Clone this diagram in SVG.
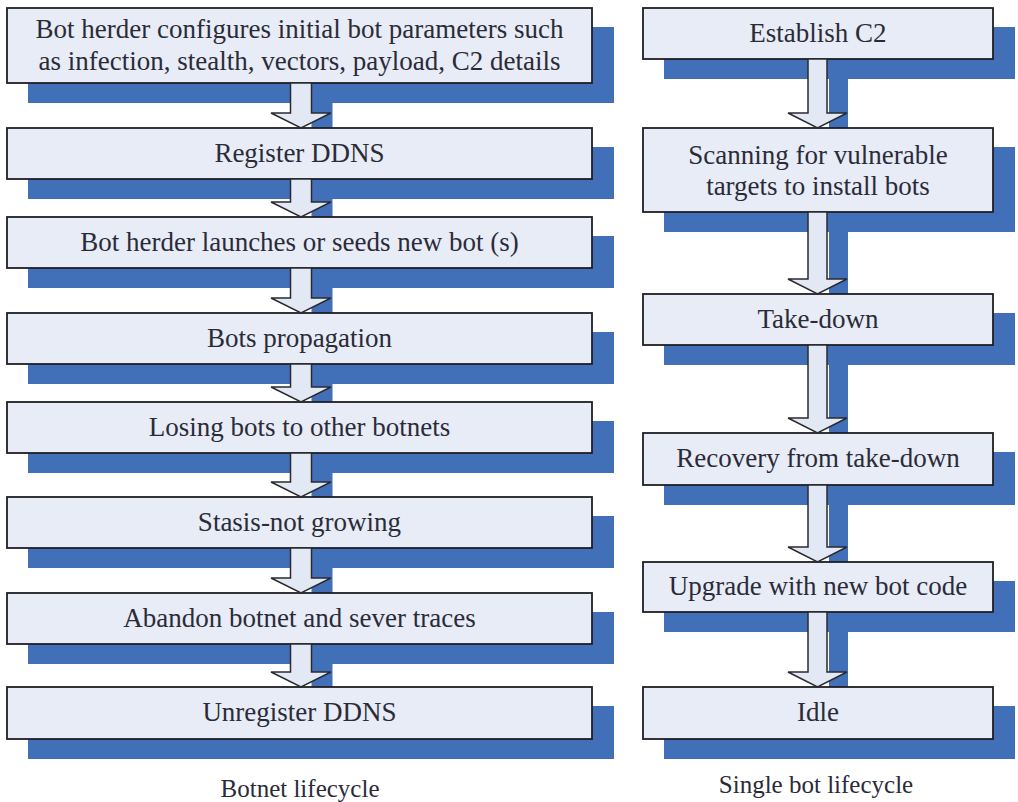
<svg xmlns="http://www.w3.org/2000/svg" width="1018" height="802" viewBox="0 0 1018 802">
  <style>
    .box { fill: #e7ecf6; stroke: #1e1e24; stroke-width: 1.8; }
    .shadow { fill: #4170b8; }
    .arrow { fill: #e3e9f4; stroke: #2a2a30; stroke-width: 1.5; stroke-linejoin: miter; }
    .label { font-family: "Liberation Serif", "Times New Roman", serif; font-size: 27px; fill: #2b2b38; text-anchor: middle; }
    .caption { font-family: "Liberation Serif", "Times New Roman", serif; font-size: 25px; fill: #2b2b38; text-anchor: middle; }
  </style>
  <defs>
    <!-- block arrows: left column centred on x=301, right column on x=817.5 -->
    <path id="arrL1" d="M290.5,83 H311.5 V113 H331 L301,128 L271,113 H290.5 Z"/>
    <path id="arrL2" d="M290.5,179 H311.5 V202 H331 L301,217 L271,202 H290.5 Z"/>
    <path id="arrL3" d="M290.5,268 H311.5 V298 H331 L301,313 L271,298 H290.5 Z"/>
    <path id="arrL4" d="M290.5,364 H311.5 V387 H331 L301,402 L271,387 H290.5 Z"/>
    <path id="arrL5" d="M290.5,453 H311.5 V482 H331 L301,497 L271,482 H290.5 Z"/>
    <path id="arrL6" d="M290.5,548 H311.5 V578 H331 L301,593 L271,578 H290.5 Z"/>
    <path id="arrL7" d="M290.5,644 H311.5 V672 H331 L301,687 L271,672 H290.5 Z"/>
    <path id="arrR1" d="M808,59 H827 V113 H847 L817.5,128 L788,113 H808 Z"/>
    <path id="arrR2" d="M808,212 H827 V279 H847 L817.5,294 L788,279 H808 Z"/>
    <path id="arrR3" d="M808,345 H827 V418 H847 L817.5,433 L788,418 H808 Z"/>
    <path id="arrR4" d="M808,485 H827 V547 H847 L817.5,562 L788,547 H808 Z"/>
    <path id="arrR5" d="M808,612 H827 V672 H847 L817.5,687 L788,672 H808 Z"/>
  </defs>

  <rect width="1018" height="802" fill="#ffffff"/>

  <!-- drop shadows, offset down and to the right -->
  <g id="shadows" class="shadow" transform="translate(21,19)">
    <rect x="7" y="8" width="586" height="76"/>
    <rect x="7" y="128" width="586" height="52"/>
    <rect x="7" y="217" width="586" height="52"/>
    <rect x="7" y="313" width="586" height="52"/>
    <rect x="7" y="402" width="586" height="52"/>
    <rect x="7" y="497" width="586" height="52"/>
    <rect x="7" y="593" width="586" height="52"/>
    <rect x="7" y="687" width="586" height="53"/>
    <rect x="643" y="8" width="351" height="52"/>
    <rect x="643" y="128" width="351" height="85"/>
    <rect x="643" y="294" width="351" height="52"/>
    <rect x="643" y="433" width="351" height="53"/>
    <rect x="643" y="562" width="351" height="51"/>
    <rect x="643" y="687" width="351" height="53"/>
    <use href="#arrL1"/><use href="#arrL2"/><use href="#arrL3"/><use href="#arrL4"/>
    <use href="#arrL5"/><use href="#arrL6"/><use href="#arrL7"/>
    <use href="#arrR1"/><use href="#arrR2"/><use href="#arrR3"/><use href="#arrR4"/><use href="#arrR5"/>
  </g>

  <!-- Botnet lifecycle -->
  <g id="configure">
    <rect class="box" x="7" y="8" width="585" height="75"/>
    <text class="label" x="299.5" y="38">Bot herder configures initial bot parameters such</text>
    <text class="label" x="299.5" y="70">as infection, stealth, vectors, payload, C2 details</text>
  </g>
  <g id="register-ddns">
    <rect class="box" x="7" y="128" width="585" height="51"/>
    <text class="label" x="299.5" y="162">Register DDNS</text>
  </g>
  <g id="launch">
    <rect class="box" x="7" y="217" width="585" height="51"/>
    <text class="label" x="299.5" y="251">Bot herder launches or seeds new bot (s)</text>
  </g>
  <g id="propagation">
    <rect class="box" x="7" y="313" width="585" height="51"/>
    <text class="label" x="299.5" y="347">Bots propagation</text>
  </g>
  <g id="losing-bots">
    <rect class="box" x="7" y="402" width="585" height="51"/>
    <text class="label" x="299.5" y="436">Losing bots to other botnets</text>
  </g>
  <g id="stasis">
    <rect class="box" x="7" y="497" width="585" height="51"/>
    <text class="label" x="299.5" y="531">Stasis-not growing</text>
  </g>
  <g id="abandon">
    <rect class="box" x="7" y="593" width="585" height="51"/>
    <text class="label" x="299.5" y="627">Abandon botnet and sever traces</text>
  </g>
  <g id="unregister-ddns">
    <rect class="box" x="7" y="687" width="585" height="52"/>
    <text class="label" x="299.5" y="721">Unregister DDNS</text>
  </g>

  <!-- Single bot lifecycle -->
  <g id="establish-c2">
    <rect class="box" x="643" y="8" width="350" height="51"/>
    <text class="label" x="818" y="42">Establish C2</text>
  </g>
  <g id="scanning">
    <rect class="box" x="643" y="128" width="350" height="84"/>
    <text class="label" x="818" y="164">Scanning for vulnerable</text>
    <text class="label" x="818" y="195">targets to install bots</text>
  </g>
  <g id="take-down">
    <rect class="box" x="643" y="294" width="350" height="51"/>
    <text class="label" x="818" y="328">Take-down</text>
  </g>
  <g id="recovery">
    <rect class="box" x="643" y="433" width="350" height="52"/>
    <text class="label" x="818" y="467">Recovery from take-down</text>
  </g>
  <g id="upgrade">
    <rect class="box" x="643" y="562" width="350" height="50"/>
    <text class="label" x="818" y="595">Upgrade with new bot code</text>
  </g>
  <g id="idle">
    <rect class="box" x="643" y="687" width="350" height="52"/>
    <text class="label" x="818" y="721">Idle</text>
  </g>

  <!-- flow arrows between consecutive steps -->
  <g id="connectors" class="arrow">
    <use href="#arrL1"/><use href="#arrL2"/><use href="#arrL3"/><use href="#arrL4"/>
    <use href="#arrL5"/><use href="#arrL6"/><use href="#arrL7"/>
    <use href="#arrR1"/><use href="#arrR2"/><use href="#arrR3"/><use href="#arrR4"/><use href="#arrR5"/>
  </g>

  <g id="captions">
    <text class="caption" x="300" y="797">Botnet lifecycle</text>
    <text class="caption" x="816" y="793">Single bot lifecycle</text>
  </g>
</svg>
